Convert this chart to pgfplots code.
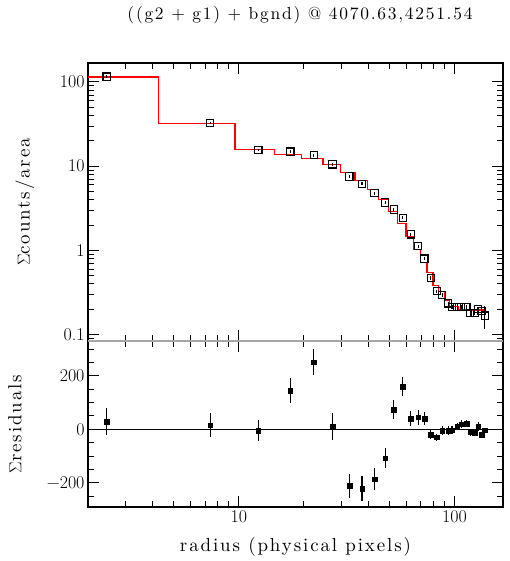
\documentclass[border=0pt]{standalone}
\usepackage{fontspec}
\usepackage{pgfplots}
\pgfplotsset{compat=1.18}
% Latin Modern with wider letter spacing, as in the reference labels
\newfontfamily\lmsp{lmroman10-regular}[Extension=.otf, LetterSpace=10]

% shared look of the two panels
\pgfplotsset{
  prof/.style={
    scale only axis, width=415bp,
    xmin=2, xmax=168,
    axis line style={line width=1.1bp},
    every tick/.style={black, line width=1bp},
    major tick length=11bp, minor tick length=6bp,
    tick align=inside,
    xtick={10,100},
    minor xtick={3,4,5,6,7,8,9,20,30,40,50,60,70,80,90},
    tick label style={font=\fontsize{18}{20}\selectfont},
    clip=false,
  },
}

\begin{document}
\begin{tikzpicture}
\path[use as bounding box] (0,0) rectangle (510bp,561bp);

% residuals
\begin{axis}[xmode=log, prof, at={(88bp,54bp)}, anchor=south west, height=166bp,
    /pgf/number format/assume math mode=true,
    ymin=-290, ymax=330,
    ytick={-200,0,200}, yticklabels={−200,0,200},
    minor ytick={-250,-150,-100,-50,50,100,150,250,300},
    xticklabels={10,100},
    ylabel={$\Sigma$residuals},
    ylabel style={at={(axis description cs:-0.176,0.5)}, anchor=center,
      font=\fontsize{19}{22}\lmsp},
    xlabel={radius (physical pixels)},
    xlabel style={font=\fontsize{19}{22}\lmsp, yshift=-8bp},
]
\addplot[black, line width=1.1bp] coordinates {(2,0) (168,0)};
\addplot[black, only marks, mark=square*, mark size=2.3bp,
    error bars/.cd, y dir=both, y explicit, error mark=none,
    error bar style={line width=1.1bp}]
  coordinates {
  (2.44,28) +- (0,50)
  (7.38,16) +- (0,45)
  (12.33,-4) +- (0,40)
  (17.35,144) +- (0,47)
  (22.3,251) +- (0,49)
  (27.2,12) +- (0,50)
  (32.6,-211) +- (0,44)
  (37.3,-221) +- (0,45)
  (42.6,-186) +- (0,42)
  (47.7,-107) +- (0,39)
  (52.3,73) +- (0,35)
  (57.6,160) +- (0,35)
  (62.8,40) +- (0,29)
  (67.9,46) +- (0,28)
  (72.6,40) +- (0,24)
  (77.7,-20) +- (0,17)
  (82.8,-30) +- (0,12)
  (87.9,-4) +- (0,17)
  (93.5,-4) +- (0,16)
  (97.5,-3) +- (0,15)
  (102.9,10) +- (0,14)
  (107.4,20) +- (0,14)
  (113.7,22) +- (0,14)
  (118.3,-11) +- (0,14)
  (124.0,-13) +- (0,13)
  (128.9,10) +- (0,16)
  (133.4,-19) +- (0,9)
  (138.4,-3) +- (0,9)
  };
\end{axis}

% surface brightness profile
\begin{axis}[xmode=log, ymode=log, prof, at={(88bp,220bp)}, anchor=south west, height=278bp,
    /pgf/number format/assume math mode=true,
    ymin=0.084, ymax=168,
    ytick={0.1,1,10,100}, yticklabels={0.1,1,10,100},
    minor ytick={0.09,0.2,0.3,0.4,0.5,0.6,0.7,0.8,0.9,2,3,4,5,6,7,8,9,20,30,40,50,60,70,80,90},
    xticklabels={},
    ylabel={$\Sigma$counts/area},
    ylabel style={at={(axis description cs:-0.152,0.5)}, anchor=center,
      font=\fontsize{19}{22}\lmsp},
]
\addplot[red, line width=1.2bp, const plot, mark=none] coordinates {
  (2,114.6) (4.25,32.4) (9.6,15.8) (14.6,13.8) (19.6,12.3) (24.6,10.5)
  (29.6,8.42) (34.6,6.76) (39.6,5.29) (44.6,4.03) (49.6,2.87) (54.6,2.09)
  (59.6,1.46) (64.6,1.03) (69.6,0.72) (74.6,0.548) (79.6,0.38) (84.6,0.323)
  (89.6,0.252) (94.6,0.218) (99.6,0.218) (104.6,0.196) (109.6,0.196)
  (114.6,0.196) (119.6,0.196) (124.6,0.196) (129.6,0.196) (134.6,0.196)
  (139.6,0.196)
  };
\addplot[black, only marks, mark=square, mark size=3.6bp,
    mark options={line width=1.1bp},
    error bars/.cd, y dir=both, y explicit, error mark=none,
    error bar style={line width=1.1bp}]
  coordinates {
  (2.44,115.9) +- (0,4)
  (7.38,32.6) +- (0,1.3)
  (12.33,15.6) +- (0,0.6)
  (17.35,14.9) +- (0,0.6)
  (22.3,13.5) +- (0,0.5)
  (27.2,10.5) +- (0,0.4)
  (32.6,7.55) +- (0,0.3)
  (37.3,6.17) +- (0,0.25)
  (42.6,4.79) +- (0,0.2)
  (47.7,3.71) +- (0,0.15)
  (52.3,3.06) +- (0,0.12)
  (57.6,2.44) +- (0,0.1)
  (62.8,1.55) +- (0,0.07)
  (67.9,1.12) +- (0,0.05)
  (72.6,0.80) +- (0,0.04)
  (77.7,0.473) +- (0,0.025)
  (82.8,0.327) +- (0,0.015)
  (87.9,0.295) +- (0,0.015)
  (93.5,0.235) +- (0,0.012)
  (97.5,0.214) +- (0,0.01)
  (102.9,0.214) +- (0,0.01)
  (107.4,0.214) +- (0,0.01)
  (113.7,0.214) +- (0,0.01)
  (118.3,0.179) +- (0,0.01)
  (124.0,0.179) +- (0,0.01)
  (128.9,0.20) +- (0,0.012)
  (133.4,0.19) +- (0,0.015)
  (138.4,0.168) +- (0,0.05)
  };
\draw[gray!70, line width=1.1bp] (rel axis cs:0,0) -- (rel axis cs:1,0);
\end{axis}

\node[font=\fontsize{17.5}{21}\lmsp] at (300bp,546bp)
  {((g2 + g1) + bgnd) @ 4070.63,4251.54};
\end{tikzpicture}
\end{document}
